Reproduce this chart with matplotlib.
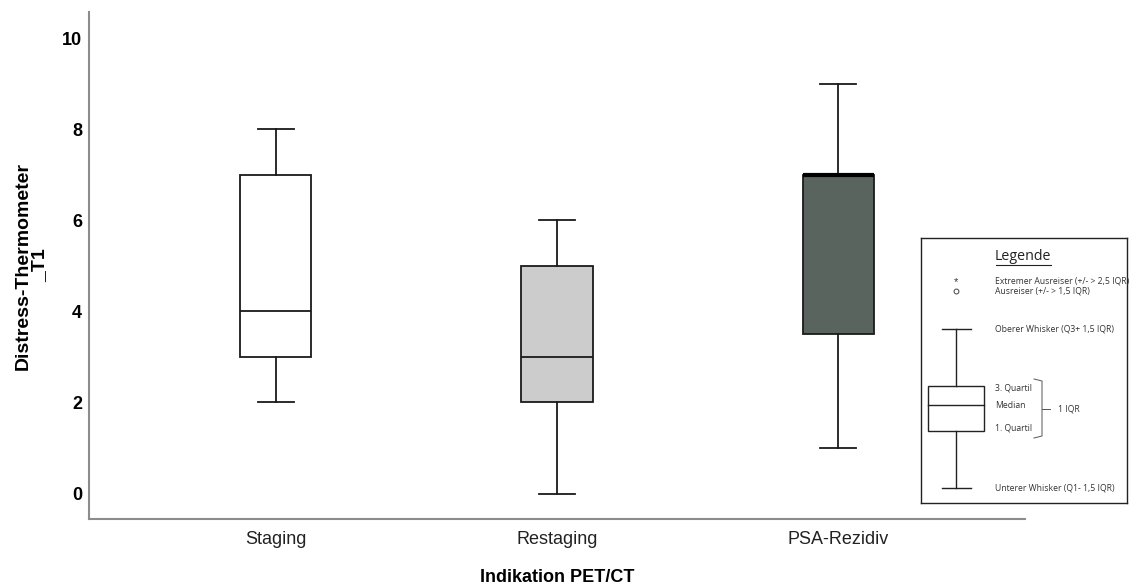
import matplotlib.pyplot as plt
from matplotlib.patches import Rectangle

plt.rcParams['font.family'] = ['Liberation Sans', 'DejaVu Sans']

categories = ['Staging', 'Restaging', 'PSA-Rezidiv']
whisker_low = [2, 0, 1]
q1 = [3, 2, 3.5]
median = [4, 3, 7]
q3 = [7, 5, 7]
whisker_high = [8, 6, 9]
box_colors = ['#ffffff', '#cccccc', '#59645e']

stats = []
for i, name in enumerate(categories):
    stats.append({'label': name, 'whislo': whisker_low[i], 'q1': q1[i],
                  'med': median[i], 'q3': q3[i], 'whishi': whisker_high[i],
                  'fliers': []})

fig = plt.figure(figsize=(11.3, 5.86), dpi=100)
ax = fig.add_axes([89 / 1130, 1 - 519 / 586, (1025 - 89) / 1130, (519 - 12) / 586])

bp = ax.bxp(stats, positions=[1, 2, 3], widths=0.253, capwidths=0.13,
            patch_artist=True, showfliers=False,
            boxprops=dict(linewidth=1.3, edgecolor='#1a1a1a'),
            whiskerprops=dict(linewidth=1.3, color='#1a1a1a'),
            capprops=dict(linewidth=1.3, color='#1a1a1a'),
            medianprops=dict(linewidth=1.3, color='#1a1a1a'))
for patch, c in zip(bp['boxes'], box_colors):
    patch.set_facecolor(c)
bp['medians'][2].set_linewidth(3)
bp['medians'][2].set_color('black')

ax.set_xlim(0.335, 3.665)
ax.set_ylim(-0.56, 10.58)
ax.set_yticks([0, 2, 4, 6, 8, 10])
ax.set_xticks([1, 2, 3])
ax.set_xticklabels(categories, fontsize=13, color='#222222')
for lab in ax.get_yticklabels():
    lab.set_fontweight('bold')
    lab.set_fontsize(13)
ax.tick_params(length=0, pad=5)
ax.tick_params(axis='x', pad=9)
for s in ['top', 'right']:
    ax.spines[s].set_visible(False)
for s in ['left', 'bottom']:
    ax.spines[s].set_color('#8c8c8c')
    ax.spines[s].set_linewidth(1.5)
ax.set_ylabel('Distress-Thermometer\n_T1', fontsize=14, fontweight='bold',
              labelpad=10, linespacing=0.95)
ax.set_xlabel('Indikation PET/CT', fontsize=13, fontweight='bold', labelpad=15)

# legend panel (pixel coordinates)
lg = fig.add_axes([921 / 1130, 1 - 503 / 586, (1127 - 921) / 1130, (503 - 238) / 586])
lg.set_xlim(921, 1127)
lg.set_ylim(503, 238)
lg.set_xticks([])
lg.set_yticks([])
for s in lg.spines.values():
    s.set_linewidth(1)
    s.set_color('#222222')
lfont = dict(family=['Open Sans', 'DejaVu Sans'], fontsize=6.2, color='#333333', va='center')
lg.text(1023, 256, 'Legende', ha='center', va='center', fontsize=10.3,
        family=['Open Sans', 'DejaVu Sans'], color='#222222')
lg.plot([996, 1051], [265, 265], color='#222222', lw=0.8)
lg.text(956, 282, '*', ha='center', va='center', fontsize=8, color='#333333')
lg.plot(956, 291, marker='o', ms=3.5, mfc='white', mec='#444444', mew=0.7)
lg.text(995, 281, 'Extremer Ausreiser (+/- > 2,5 IQR)', **lfont)
lg.text(995, 291, 'Ausreiser (+/- > 1,5 IQR)', **lfont)
lg.plot([942, 971], [329, 329], color='#222222', lw=1)
lg.plot([956, 956], [329, 386], color='#222222', lw=1)
lg.plot([956, 956], [431, 488], color='#222222', lw=1)
lg.plot([942, 971], [488, 488], color='#222222', lw=1)
lg.add_patch(Rectangle((928, 386), 56, 45, fill=False, ec='#222222', lw=1))
lg.plot([928, 984], [405, 405], color='#222222', lw=1)
lg.text(995, 329, 'Oberer Whisker (Q3+ 1,5 IQR)', **lfont)
lg.text(995, 388, '3. Quartil', **lfont)
lg.text(995, 406, 'Median', **lfont)
lg.text(995, 428, '1. Quartil', **lfont)
lg.text(995, 488, 'Unterer Whisker (Q1- 1,5 IQR)', **lfont)
lg.plot([1034, 1042, 1042, 1034], [379, 381, 436, 438], color='#555555', lw=0.7)
lg.plot([1042, 1050], [409, 409], color='#555555', lw=0.7)
lg.text(1058, 409, '1 IQR', **lfont)

fig.savefig('out.png', dpi=100)
